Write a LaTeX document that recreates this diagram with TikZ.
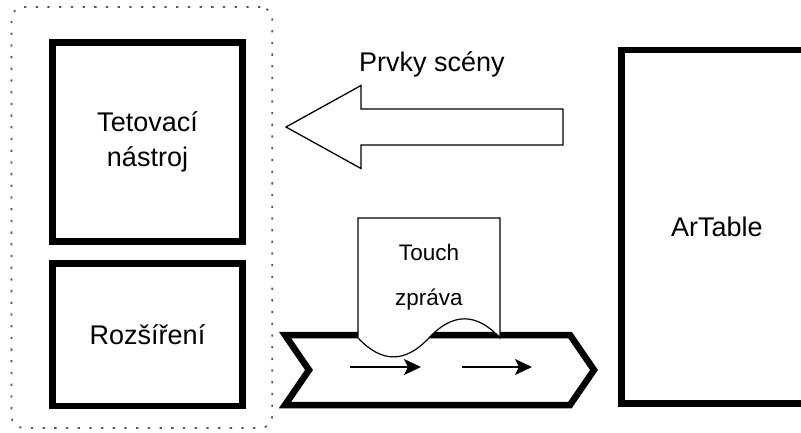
\documentclass[tikz,border=0pt]{standalone}
\usepackage{fontspec}
\setmainfont{Liberation Sans}
\usetikzlibrary{arrows.meta}
\begin{document}
\begin{tikzpicture}[x=1pt,y=-1pt,
  thickbox/.style={draw=black, line width=6.5pt, fill=white, rectangle, inner sep=0pt, font=\fontsize{27}{35}\selectfont, align=center},
  thinline/.style={draw=black, line width=1.3pt},
  flowarrow/.style={draw=black, line width=1.3pt, -{Stealth[length=17pt,width=16pt,inset=4pt]}},
  lbl/.style={font=\fontsize{27}{33}\selectfont, inner sep=0pt},
  smalllbl/.style={font=\fontsize{22.5}{27}\selectfont, inner sep=0pt},
  container/.style={draw=black!65, line width=1.7pt, dash pattern=on 2.3pt off 9.4pt, rounded corners=12pt, inner sep=0pt},
  stepshape/.style={draw=black, line width=6.5pt, fill=white, line join=miter}
]
\useasboundingbox (0,0) rectangle (801,432);

% group frame
\node[container, minimum width=260.8pt, minimum height=421pt] (group) at (141.9,217.5) {};

% boxes
\node[thickbox, minimum width=189.6pt, minimum height=199pt] (tet) at (147.5,142.2) {Tetovací\\nástroj};
\node[thickbox, minimum width=189.6pt, minimum height=142.7pt] (roz) at (147.5,334.7) {Rozšíření};
\node[thickbox, minimum width=190.3pt, minimum height=353.3pt] (art) at (716.8,226.7) {ArTable};

% block arrow "Prvky scény"
\draw[thinline, fill=white] (286,127) -- (361,85.5) -- (361,109) -- (563,109) -- (563,145) -- (361,145) -- (361,168.5) -- cycle;
\node[lbl, anchor=base] (prvky) at (432,71.7) {Prvky scény};

% step (chevron)
\draw[stepshape] (285,335) -- (570,335) -- (594,370) -- (570,405) -- (285,405) -- (309,370) -- cycle;

% document
\draw[thinline, line width=1.2pt, fill=white] (358,218) -- (500,218) -- (500,337.85)
  .. controls (476.33,312.48) and (452.67,312.48) .. (429,337.85)
  .. controls (405.33,363.22) and (381.67,363.22) .. (358,337.85) -- cycle;
\node[smalllbl, anchor=base] (touch) at (429,260) {Touch};
\node[smalllbl, anchor=base] (zprava) at (429,305) {zpráva};

% arrows inside the step
\coordinate (a1s) at (350,367);
\coordinate (a1e) at (421,367);
\coordinate (a2s) at (462,367);
\coordinate (a2e) at (532,367);
\draw[flowarrow] (a1s) -- (a1e);
\draw[flowarrow] (a2s) -- (a2e);
\end{tikzpicture}
\end{document}
